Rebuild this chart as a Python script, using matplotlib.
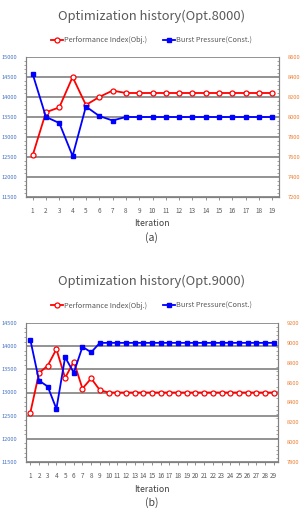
import matplotlib
matplotlib.use("Agg")
import matplotlib.pyplot as plt
from matplotlib.ticker import MultipleLocator

plt.rcParams['font.family'] = ['Noto Sans CJK KR', 'DejaVu Sans']

# Data (a) Opt.8000
iters_a = list(range(1, 20))
perf_a = [12540, 13620, 13740, 14500, 13800, 14000, 14160] + [14100] * 12
burst_a = [8430, 8000, 7940, 7610, 8105, 8010, 7965] + [8000] * 12

# Data (b) Opt.9000
iters_b = list(range(1, 30))
perf_b = [12565, 13420, 13580, 13935, 13315, 13665, 13085, 13305, 13050] + [13000] * 20
burst_b = [9030, 8620, 8560, 8335, 8855, 8700, 8960, 8905] + [9000] * 21

RED = '#FF0000'
BLUE = '#0000FF'
GRID = '#808080'
LBLUE = '#4472C4'
ORANGE = '#ED7D31'

fig = plt.figure(figsize=(3.03, 5.12), dpi=100)


def panel(rect, x, perf, burst, lylim, rylim, rstep, title, title_y, leg_y, lab_y, cap, cap_y):
    ax = fig.add_axes(rect)
    ax2 = ax.twinx()
    l1, = ax.plot(x, perf, color=RED, lw=1.3, marker='o', ms=3.6, mfc='white',
                  mec=RED, mew=0.9, label='Performance Index(Obj.)')
    l2, = ax2.plot(x, burst, color=BLUE, lw=1.3, marker='s', ms=3.4, mfc=BLUE,
                   mec=BLUE, label='Burst Pressure(Const.)')
    ax.set_xlim(0.5, len(x) + 0.5)
    ax.set_ylim(*lylim)
    ax2.set_ylim(*rylim)
    ax.yaxis.set_major_locator(MultipleLocator(500))
    ax.yaxis.set_minor_locator(MultipleLocator(100))
    ax2.yaxis.set_major_locator(MultipleLocator(rstep))
    ax2.yaxis.set_minor_locator(MultipleLocator(rstep / 5))
    ax.set_xticks(x)
    ax.set_xticklabels([str(i) for i in x])
    ax.grid(axis='y', color=GRID, lw=1.2)
    ax.set_axisbelow(True)
    for a in (ax, ax2):
        a.spines['top'].set_visible(False)
        for s in ('left', 'right', 'bottom'):
            a.spines[s].set_color(GRID)
            a.spines[s].set_linewidth(0.8)
    ax.tick_params(axis='x', labelsize=4.6, colors='#595959', length=2, width=0.6,
                   color=GRID, pad=5)
    ax.tick_params(axis='y', which='major', labelsize=4.1, labelcolor=LBLUE, length=0, pad=6)
    ax.tick_params(axis='y', which='minor', length=1.5, width=0.5, color=GRID)
    ax2.tick_params(axis='y', which='major', labelsize=4.1, labelcolor=ORANGE, length=0, pad=6)
    ax2.tick_params(axis='y', which='minor', length=1.5, width=0.5, color=GRID, direction='in')
    fig.text(0.5, title_y, title, ha='center', va='center', fontsize=9.3, color='#595959')
    fig.legend(handles=[l1, l2], loc='center', bbox_to_anchor=(0.5, leg_y), ncol=2,
               frameon=False, fontsize=5.3, handlelength=1.6, handletextpad=0.1,
               columnspacing=2.2, labelcolor='#595959')
    fig.text(0.5, lab_y, 'Iteration', ha='center', va='center', fontsize=6.3, color='#404040')
    fig.text(0.5, cap_y, cap, ha='center', va='center', fontsize=7.5, color='#404040')


panel([26 / 303, 1 - 197 / 512, 253 / 303, 140 / 512], iters_a, perf_a, burst_a,
      (11500, 15000), (7200, 8600), 200, 'Optimization history(Opt.8000)',
      1 - 16 / 512, 1 - 40.5 / 512, 1 - 224 / 512, '(a)', 1 - 238 / 512)

panel([26 / 303, 1 - 462 / 512, 252 / 303, 139 / 512], iters_b, perf_b, burst_b,
      (11500, 14500), (7800, 9200), 200, 'Optimization history(Opt.9000)',
      1 - 281.5 / 512, 1 - 305.5 / 512, 1 - 489 / 512, '(b)', 1 - 503 / 512)

fig.savefig('out.png', dpi=100, facecolor='white')
